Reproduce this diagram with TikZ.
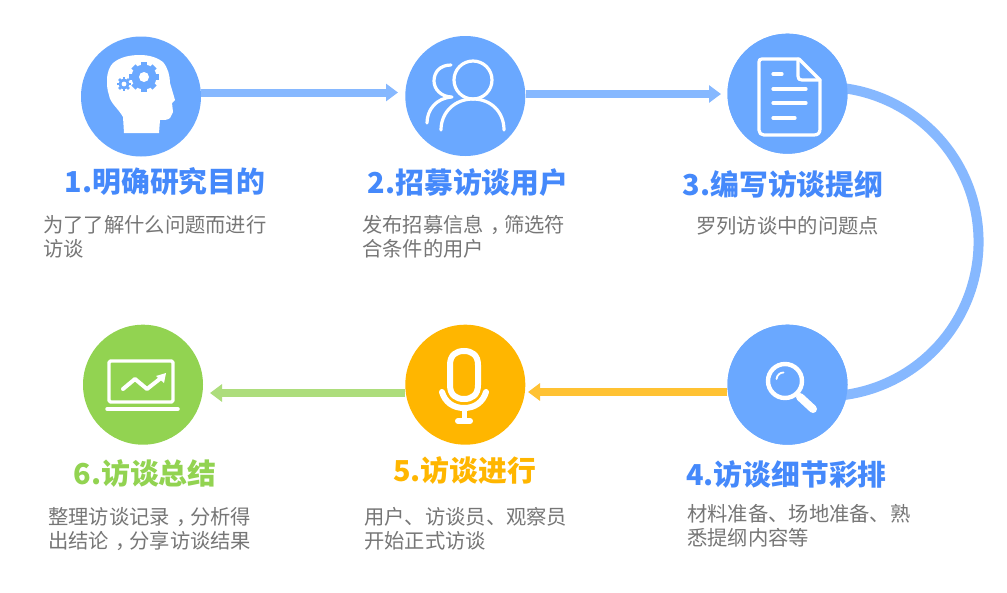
\documentclass[tikz,border=0pt]{standalone}
\usepackage{fontspec}
\setmainfont{Noto Sans CJK SC}
\usetikzlibrary{arrows.meta}
\definecolor{cblue}{HTML}{6AA8FF}
\definecolor{lblue}{HTML}{86B8FF}
\definecolor{corange}{HTML}{FFB600}
\definecolor{lorange}{HTML}{FFC233}
\definecolor{cgreen}{HTML}{92D351}
\definecolor{lgreen}{HTML}{ADDD7C}
\definecolor{tblue}{HTML}{4589FB}
\definecolor{tgrey}{HTML}{767676}
\newcommand\midcomma{\kern.3em，\kern-.3em}
\tikzset{
  disc/.style={circle,inner sep=0pt,minimum size=120pt,fill=#1},
  ttl/.style={text=#1,font=\fontsize{28.8}{32}\selectfont\bfseries,inner sep=0pt},
  body/.style={text=tgrey,font=\fontsize{20.3}{24.2}\selectfont,inner sep=0pt,align=left,anchor=north west},
  link/.style={line width=8pt,draw=#1,-{Triangle[length=12pt,width=17pt]}},
  ico/.style={draw=white,line width=3.2pt,line cap=round,line join=round},
}
\begin{document}
\begin{tikzpicture}[x=1pt,y=-1pt]
\useasboundingbox (0,0) rectangle (1007,592);
\fill[white] (0,0) rectangle (1007,592);
\coordinate (a23) at (398,92.5);
\coordinate (a34) at (721,94);
\coordinate (a45) at (528,392);
\coordinate (a56) at (210,393);
\coordinate (k3) at (797,89.3);
\node[disc=cblue] (c1) at (141,96.5) {};
\node[disc=cblue] (c2) at (465.3,96) {};
\node[disc=cblue] (c3) at (787.5,93.7) {};
\node[disc=cblue] (c4) at (787.5,384.7) {};
\node[disc=corange] (c5) at (465.3,384.7) {};
\node[disc=cgreen] (c6) at (143,384.7) {};
\draw[link=lblue] (c1.east |- a23) -- (a23);
\draw[link=lblue] (c2.east |- a34) -- (a34);
\draw[link=lorange] (c4.west |- a45) -- (a45);
\draw[link=lgreen] (c5.west |- a56) -- (a56);
\draw[line width=10pt,draw=lblue] (k3) arc[start angle=100,end angle=-100,radius=154.7pt];
\node[disc=cblue] at (c3) {};
\node[disc=cblue] at (c4) {};
% icon 1
\fill[white] (124,133) -- (123,117) .. controls (118,108) and (110,103) .. (109,95) .. controls (107,90) and (107,84) .. (107,80) .. controls (107,72) and (110,66) .. (113,63) .. controls (120,57) and (130,55) .. (140,55) .. controls (150,55) and (158,58) .. (163,62) .. controls (168,68) and (170,76) .. (170,83) -- (175,100) -- (172,103) -- (173,112) -- (170,118) .. controls (168,120) and (164,120) .. (160,120) -- (159,133) -- cycle;
\fill[cblue] (144,77) circle (12.5);
\foreach \a in {0,45,...,315}{\fill[cblue,rotate around={\a:(144,77)}] (141,62) rectangle (147,68);}
\fill[white] (144,77) circle (5);
\fill[cblue] (124,84) circle (5.5);
\foreach \a in {0,45,...,315}{\fill[cblue,rotate around={\a:(124,84)}] (122.6,77) rectangle (125.4,80);}
\fill[white] (124,84) circle (2.4);
% icon 2
\draw[ico] (473,80) circle (19);
\draw[ico] (441,130) .. controls (441,112) and (455,99) .. (473,99) .. controls (491,99) and (504,112) .. (504,130);
\draw[ico] (451,65) .. controls (440,65) and (434,72) .. (434,81) .. controls (434,89) and (441,97) .. (452,97) .. controls (436,98) and (427,110) .. (427,123);
% icon 3
\draw[ico] (762,59) -- (799,59) -- (820,80) -- (820,129) .. controls (820,133) and (818,135) .. (814,135) -- (764,135) .. controls (761,135) and (759,133) .. (759,130) -- (759,62) .. controls (759,60) and (760,59) .. (762,59);
\draw[ico] (798,59) -- (798,76) .. controls (798,79) and (799,80) .. (802,80) -- (820,80);
\draw[ico] (773,74) -- (782,74);
\draw[ico] (773,89) -- (806,89);
\draw[ico] (773,103) -- (806,103);
\draw[ico] (773,118) -- (795,118);
% icon 4
\draw[white,line width=4.4pt] (785,381) circle (17);
\draw[white,line width=8pt,line cap=round] (800,397) -- (813,409);
\draw[white,line width=1.8pt,line cap=round] (776.5,379) .. controls (777,375) and (780,372.5) .. (783.5,372.5);
% icon 5
\draw[white,line width=6pt] (450,365) .. controls (450,355) and (456,351) .. (464,351) .. controls (472,351) and (478,355) .. (478,365) -- (478,385) .. controls (478,395) and (472,399) .. (464,399) .. controls (456,399) and (450,395) .. (450,385) -- cycle;
\draw[white,line width=6pt,line cap=round] (442,392) .. controls (445,402) and (453,408) .. (464,408) .. controls (475,408) and (483,402) .. (486,392);
\draw[white,line width=5pt] (464,408) -- (464,420);
\draw[white,line width=6pt,line cap=round] (458,421) -- (470,421);
% icon 6
\draw[white,line width=3.4pt,line join=round,rounded corners=1.5pt] (109,361) rectangle (173,402);
\draw[white,line width=3.5pt,line cap=round] (107,409) -- (178,409);
\draw[white,line width=4pt,line cap=round,line join=round] (123,389) -- (135,379) -- (147,389) -- (161,378);
\fill[white] (156,376) -- (166,373) -- (164,383) -- cycle;
% titles
\node[ttl=tblue] (t1) at (165,181.5) {1.明确研究目的};
\node[ttl=tblue] (t2) at (468,182.5) {2.招募访谈用户};
\node[ttl=tblue] (t3) at (783,184.5) {3.编写访谈提纲};
\node[ttl=tblue] (t4) at (786.5,474.5) {4.访谈细节彩排};
\node[ttl=corange] (t5) at (464.5,470.5) {5.访谈进行};
\node[ttl=cgreen] (t6) at (145,473.5) {6.访谈总结};
% bodies
\node[body] (b1) at (43,215) {为了了解什么问题而进行\\访谈};
\node[body] (b2) at (362,215) {发布招募信息\midcomma 筛选符\\合条件的用户};
\node[body] (b3) at (696,216) {罗列访谈中的问题点};
\node[body] (b4) at (687,504) {材料准备、场地准备、熟\\悉提纲内容等};
\node[body] (b5) at (364,507) {用户、访谈员、观察员\\开始正式访谈};
\node[body] (b6) at (48,507) {整理访谈记录\midcomma 分析得\\出结论\midcomma 分享访谈结果};
\end{tikzpicture}
\end{document}
